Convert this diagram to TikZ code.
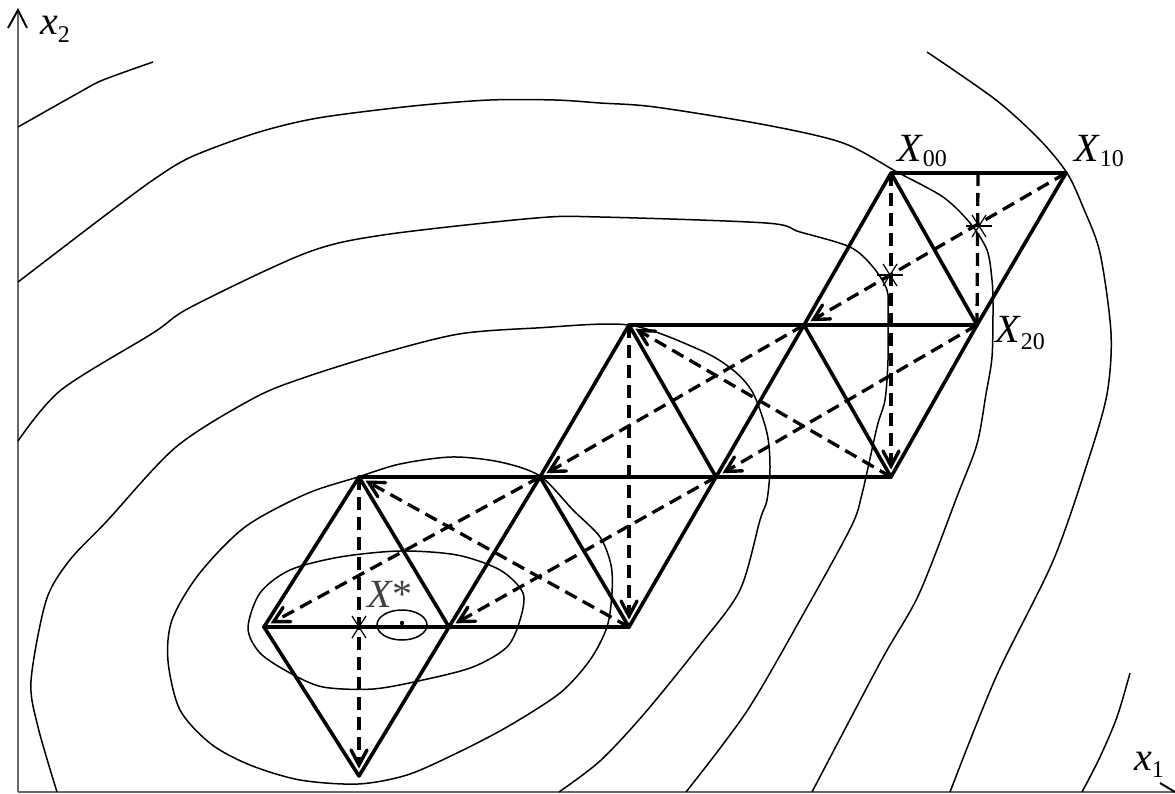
\documentclass[tikz,border=0pt]{standalone}
\usepackage{fontspec}
\setmainfont{Liberation Serif}
\begin{document}
\begin{tikzpicture}[x=1pt,y=-1pt,
  edge/.style={line width=3.6pt, line cap=round, line join=round},
  med/.style={line width=3.3pt, dash pattern=on 13pt off 7pt},
  tipline/.style={line width=3.4pt, line cap=round, line join=miter},
  contour/.style={line width=1.5pt},
  axis/.style={line width=1.5pt, black!60},
  lab/.style={inner sep=0pt, anchor=base west, font=\fontsize{40}{44}\selectfont},
  star/.style={line width=1.2pt}
]
\useasboundingbox (0,0) rectangle (1175,794);
\begin{scope}
\clip (0,0) rectangle (1175,794);
% axes
\coordinate (O) at (18,792);
\coordinate (Ytop) at (18,10);
\coordinate (Xend) at (1175,792);
\coordinate (Xstub) at (1160,783);
\draw[axis] (O) -- (Ytop);
\draw[line width=1.9pt] (8,28) -- (Ytop) -- (27,28);
\draw[axis] (O) -- (Xend);
\draw[line width=1.9pt] (Xstub) -- (Xend);

% contours
\draw[contour] plot[smooth] coordinates {(18,127) (80,92) (103,80) (153,62)};
\draw[contour] plot[smooth] coordinates {(18,282) (103,217) (153,180) (191,157) (256,133) (318,118) (413,106) (490,100) (555,100) (600,103) (655,107) (766,125) (843,143) (897,172) (943,197) (970,223) (987,250) (992,280) (993,307) (992,357) (986,394) (977,444) (958,494) (919,594) (881,661) (812,792)};
\draw[contour] plot[smooth] coordinates {(18,441) (61,390) (153,333) (191,307) (306,253) (383,235) (536,218) (600,217) (766,223) (800,232) (850,247) (873,267) (887,290) (888,313) (888,360) (885,400) (877,427) (862,494) (851,527) (805,611) (747,711) (686,792)};
\draw[contour] plot[smooth] coordinates {(57,792) (38,727) (31,681) (46,601) (69,561) (107,521) (176,447) (254,398) (306,377) (383,353) (459,334) (536,328) (629,325) (700,350) (733,370) (753,393) (767,433) (770,467) (767,500) (760,520) (740,590) (700,645) (644,714) (600,761) (559,792)};
\draw[contour] plot[smooth cycle] coordinates {(168,661) (172,620) (199,574) (245,527) (306,494) (358,477) (400,464) (452,457) (500,462) (540,476) (573,510) (600,537) (611,565) (612,593) (607,627) (590,660) (560,693) (507,727) (457,753) (407,775) (358,784) (300,780) (250,765) (211,744) (180,710)};
\draw[contour] plot[smooth cycle] coordinates {(248,628) (260,593) (290,570) (340,557) (400,551) (457,555) (500,570) (523,593) (520,620) (507,647) (473,667) (423,680) (373,689) (323,687) (290,673) (260,653)};
\draw[contour] (402,625) ellipse [x radius=25, y radius=15];
\fill (402,623) circle (2.2pt);
\draw[contour] plot[smooth] coordinates {(927,52) (996,100) (1040,140) (1067,173) (1083,207) (1100,253) (1111,333) (1107,394) (1088,461) (1053,561) (996,677) (950,792)};
\draw[contour] plot[smooth] coordinates {(1130,673) (1117,717) (1100,757) (1082,792)};
\end{scope}

% simplex vertices
\coordinate (X00) at (891,173);
\coordinate (X10) at (1066,173);
\coordinate (M0) at (978,173);
\coordinate (X20) at (977,325);
\coordinate (A) at (804,325);
\coordinate (D) at (629,325);
\coordinate (B) at (891,477);
\coordinate (C) at (716,477);
\coordinate (E) at (540,477);
\coordinate (H) at (359,477);
\coordinate (F) at (629,627);
\coordinate (G) at (449,627);
\coordinate (I) at (264,627);
\coordinate (J) at (359,776);

% solid edges
\draw[edge] (X00) -- (X10) -- (X20) -- cycle;
\draw[edge] (X00) -- (A) -- (C);
\draw[edge] (A) -- (B) -- (X20);
\draw[edge] (D) -- (X20);
\draw[edge] (H) -- (B);
\draw[edge] (I) -- (F);
\draw[edge] (E) -- (D) -- (C) -- (F) -- (E) -- (G) -- (H) -- (I) -- (J) -- (G);

% median and reflection lines
\draw[med] (M0) -- (X20);
\foreach \s/\t in {X10/A, X00/B, X20/C, B/D, A/E, D/F, C/G, F/H, E/I, H/J}{
  \draw[med, shorten >=11pt] (\s) -- (\t);
}
% open arrowheads (wing, tip, wing)
\draw[tipline] (822.5,305.0) -- (813.5,319.5) -- (830.5,318.9);
\draw[tipline] (883,451) -- (891,466) -- (899,451);
\draw[tipline] (734.4,457.0) -- (725.5,471.5) -- (742.5,470.8);
\draw[tipline] (655.5,331.1) -- (638.5,330.5) -- (647.5,345.0);
\draw[tipline] (558.6,457.1) -- (549.5,471.5) -- (566.5,471.0);
\draw[tipline] (621,601) -- (629,616) -- (637,601);
\draw[tipline] (467.8,607.3) -- (458.6,621.6) -- (475.6,621.2);
\draw[tipline] (385.6,482.6) -- (368.6,482.3) -- (377.8,496.6);
\draw[tipline] (283.0,607.5) -- (273.7,621.7) -- (290.7,621.6);
\draw[tipline] (351,750) -- (359,765) -- (367,750);

% centroid stars
\foreach \p in {(979,226),(890,275),(359,627)}{
  \draw[star] \p ++(-13,0) -- ++(26,0);
  \draw[star] \p ++(-7,-11) -- ++(14,22);
  \draw[star] \p ++(-7,11) -- ++(14,-22);
}

% labels
\node[lab] (lx2) at (40,35) {\textit{x}\raisebox{-0.18em}{\fontsize{24}{26}\selectfont 2}};
\node[lab] (lx1) at (1134,770) {\textit{x}\raisebox{-0.18em}{\fontsize{24}{26}\selectfont 1}};
\node[lab] (l00) at (897,162) {\textit{X}\raisebox{-0.12em}{\fontsize{24}{26}\selectfont 00}};
\node[lab] (l10) at (1074,162) {\textit{X}\raisebox{-0.12em}{\fontsize{24}{26}\selectfont 10}};
\node[lab] (l20) at (995,342) {\textit{X}\raisebox{-0.18em}{\fontsize{24}{26}\selectfont 20}};
\node[lab, text=black!75] (lxs) at (367,607) {\textit{X}*};
\end{tikzpicture}
\end{document}
